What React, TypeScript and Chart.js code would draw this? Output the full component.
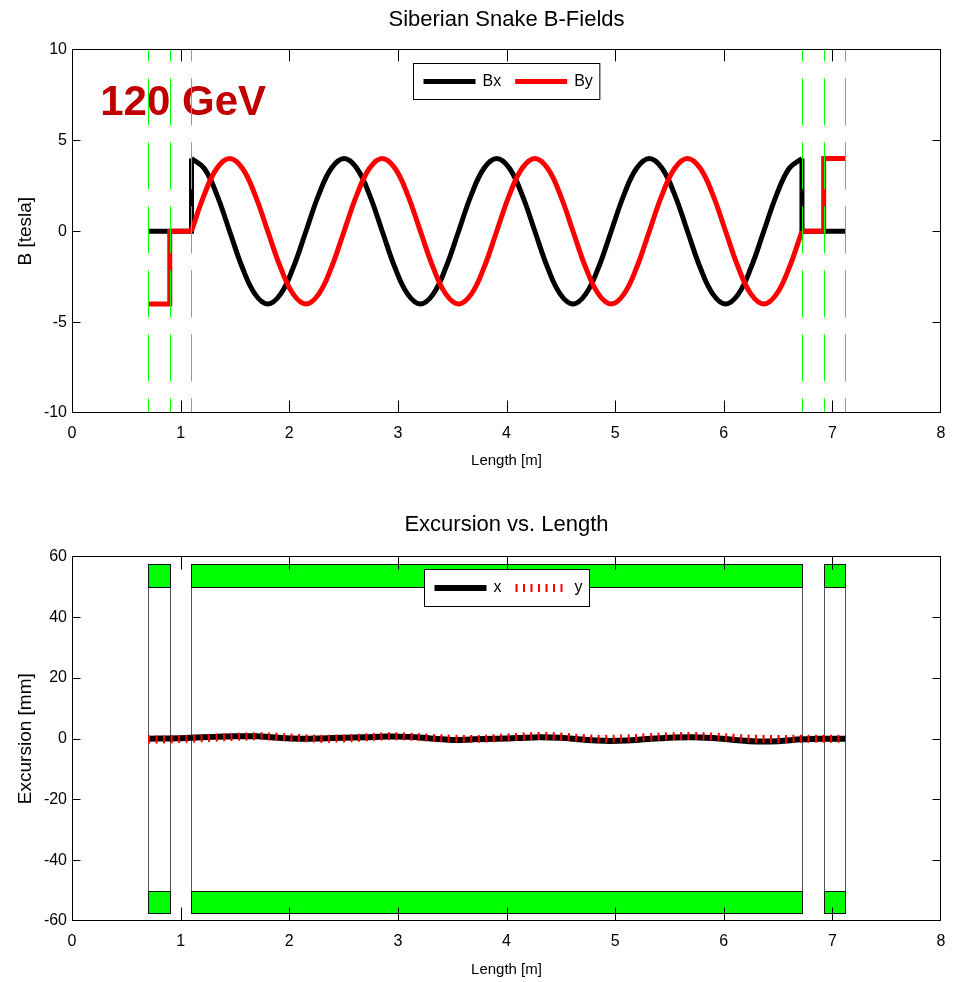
import React, { useEffect, useRef } from 'react';
import { Chart, registerables } from 'chart.js';

Chart.register(...registerables);

const FONT = '"Liberation Sans Narrow", "Liberation Sans", Arial, sans-serif';

// ---------- Siberian snake geometry [m] ----------
const magnetStarts = [0.7, 1.1, 6.92];
const magnetEnds = [0.9, 6.72, 7.12];
const boundaryLines = [0.7, 0.9, 1.1, 6.72, 6.92, 7.12];
const apertureInner = 50;
const apertureOuter = 57.5;

// ---------- Top chart: B-fields ----------
const helixX = [
  1.1, 1.217, 1.334, 1.451, 1.568, 1.685, 1.802, 1.92, 2.037, 2.154, 2.271, 2.388,
  2.505, 2.622, 2.739, 2.856, 2.973, 3.09, 3.207, 3.325, 3.442, 3.559, 3.676, 3.793,
  3.91, 4.027, 4.144, 4.261, 4.378, 4.495, 4.612, 4.729, 4.847, 4.964, 5.081, 5.198,
  5.315, 5.432, 5.549, 5.666, 5.783, 5.9, 6.017, 6.134, 6.251, 6.369, 6.486, 6.603, 6.72,
];
const bxHelix = [
  4, 3.46, 2, 0, -2, -3.46, -4, -3.46, -2, 0, 2, 3.46,
  4, 3.46, 2, 0, -2, -3.46, -4, -3.46, -2, 0, 2, 3.46,
  4, 3.46, 2, 0, -2, -3.46, -4, -3.46, -2, 0, 2, 3.46,
  4, 3.46, 2, 0, -2, -3.46, -4, -3.46, -2, 0, 2, 3.46, 4,
];
const byHelix = [
  0, 2, 3.46, 4, 3.46, 2, 0, -2, -3.46, -4, -3.46, -2,
  0, 2, 3.46, 4, 3.46, 2, 0, -2, -3.46, -4, -3.46, -2,
  0, 2, 3.46, 4, 3.46, 2, 0, -2, -3.46, -4, -3.46, -2,
  0, 2, 3.46, 4, 3.46, 2, 0, -2, -3.46, -4, -3.46, -2, 0,
];
const bxEntryX = [0.7, 1.1, 1.1];
const bxEntryY = [0, 0, 4];
const bxExitX = [6.72, 6.72, 7.12];
const bxExitY = [4, 0, 0];
const byEntryX = [0.7, 0.9, 0.9, 1.1];
const byEntryY = [-4, -4, 0, 0];
const byExitX = [6.72, 6.92, 6.92, 7.12];
const byExitY = [0, 0, 4, 4];

// ---------- Bottom chart: excursion ----------
const excursionL = [
  0.7, 0.9, 1.1, 1.3, 1.5, 1.7, 1.9, 2.1, 2.3, 2.5, 2.7, 2.9, 3.1, 3.3, 3.5, 3.7, 3.9,
  4.1, 4.3, 4.5, 4.7, 4.9, 5.1, 5.3, 5.5, 5.7, 5.9, 6.1, 6.3, 6.5, 6.72, 6.92, 7.12,
];
const excursionXmm = [
  0, 0.1, 0.3, 0.6, 0.8, 0.8, 0.3, 0, 0.1, 0.3, 0.5, 0.7, 0.6, 0.1, -0.4, -0.2, 0,
  0.2, 0.5, 0.3, -0.3, -0.7, -0.6, -0.1, 0.3, 0.5, 0.2, -0.4, -0.9, -0.8, -0.2, 0, 0,
];
const excursionYmm = [
  -0.3, -0.2, 0, 0.3, 0.6, 0.8, 0.6, 0.2, 0, 0.1, 0.4, 0.8, 0.7, 0.3, 0, -0.1, 0.2,
  0.6, 0.9, 0.7, 0.2, 0, 0.1, 0.5, 0.8, 0.9, 0.7, 0.3, 0, -0.1, 0, 0, 0,
];

const toXY = (xs: number[], ys: number[]) => xs.map((x, i) => ({ x, y: ys[i] }));

const RED = '#ff0000';
const BLACK = '#000000';

function drawBoxAndTicks(chart: any, xTickLen: number, yTickLen: number) {
  const { ctx, chartArea: a, scales } = chart;
  ctx.save();
  ctx.strokeStyle = '#000';
  ctx.lineWidth = 1;
  const L = Math.round(a.left) + 0.5;
  const R = Math.round(a.right) - 0.5;
  const T = Math.round(a.top) + 0.5;
  const B = Math.round(a.bottom) - 0.5;
  ctx.strokeRect(L, T, R - L, B - T);
  ctx.beginPath();
  const xs = scales.x;
  xs.ticks.forEach((t: any) => {
    if (t.value <= xs.min || t.value >= xs.max) return;
    const px = Math.round(xs.getPixelForValue(t.value)) + 0.5;
    ctx.moveTo(px, B);
    ctx.lineTo(px, B - xTickLen);
    ctx.moveTo(px, T);
    ctx.lineTo(px, T + xTickLen);
  });
  const ys = scales.y;
  ys.ticks.forEach((t: any) => {
    if (t.value <= ys.min || t.value >= ys.max) return;
    const py = Math.round(ys.getPixelForValue(t.value)) + 0.5;
    ctx.moveTo(L, py);
    ctx.lineTo(L + yTickLen, py);
    ctx.moveTo(R, py);
    ctx.lineTo(R - yTickLen, py);
  });
  ctx.stroke();
  ctx.restore();
}

function drawLegend(chart: any, topOffset: number, height: number) {
  const { ctx, chartArea: a } = chart;
  const items = chart.data.datasets
    .filter((d: any) => d.inLegend)
    .slice()
    .sort((p: any, q: any) => q.order - p.order);
  ctx.save();
  ctx.font = `16px ${FONT}`;
  const padL = 10, lineLen = 52, gapText = 7, gapItem = 14, padR = 7;
  let w = padL + padR;
  items.forEach((it: any, i: number) => {
    w += lineLen + gapText + ctx.measureText(it.label).width + (i < items.length - 1 ? gapItem : 0);
  });
  const cx = (a.left + a.right) / 2;
  const x0 = Math.round(cx - w / 2) + 0.5;
  const y0 = Math.round(a.top + topOffset) + 0.5;
  ctx.fillStyle = '#fff';
  ctx.fillRect(x0, y0, w, height);
  ctx.strokeStyle = '#000';
  ctx.lineWidth = 1;
  ctx.strokeRect(x0, y0, w, height);
  let x = x0 + padL;
  const cy = y0 + height / 2;
  items.forEach((it: any) => {
    ctx.save();
    ctx.strokeStyle = it.borderColor;
    ctx.lineWidth = it.borderWidth;
    if (it.borderDash) ctx.setLineDash(it.borderDash);
    ctx.beginPath();
    ctx.moveTo(x, cy);
    ctx.lineTo(x + lineLen, cy);
    ctx.stroke();
    ctx.restore();
    x += lineLen + gapText;
    ctx.fillStyle = '#000';
    ctx.textBaseline = 'middle';
    ctx.textAlign = 'left';
    ctx.fillText(it.label, x, cy);
    x += ctx.measureText(it.label).width + gapItem;
  });
  ctx.restore();
}

// annotation label position in data units
const energyLabel = '120 GeV';
const energyLabelAt = { x: 0.26, y: 6.4 };

const topPlugin = {
  id: 'topDecor',
  beforeDatasetsDraw(chart: any) {
    const { ctx, scales } = chart;
    ctx.save();
    ctx.font = `bold 42px "Liberation Sans", Arial, sans-serif`;
    ctx.fillStyle = '#c00000';
    ctx.textBaseline = 'alphabetic';
    ctx.textAlign = 'left';
    ctx.fillText(energyLabel, scales.x.getPixelForValue(energyLabelAt.x), scales.y.getPixelForValue(energyLabelAt.y));
    ctx.restore();
  },
  afterDatasetsDraw(chart: any) {
    const { ctx, scales } = chart;
    ctx.save();
    ctx.strokeStyle = '#00ff00';
    ctx.lineWidth = 1;
    ctx.setLineDash([47, 17]);
    ctx.lineDashOffset = 35;
    boundaryLines.forEach((v) => {
      const px = Math.round(scales.x.getPixelForValue(v)) + 0.5;
      ctx.beginPath();
      ctx.moveTo(px, scales.y.getPixelForValue(10));
      ctx.lineTo(px, scales.y.getPixelForValue(-10));
      ctx.stroke();
    });
    ctx.restore();
    drawBoxAndTicks(chart, 12, 8);
  },
  afterDraw(chart: any) {
    drawLegend(chart, 14, 36);
  },
};

const bottomPlugin = {
  id: 'bottomDecor',
  beforeDatasetsDraw(chart: any) {
    const { ctx, scales } = chart;
    const xs = scales.x, ys = scales.y;
    ctx.save();
    ctx.lineWidth = 1;
    magnetStarts.forEach((s, i) => {
      const x0 = Math.round(xs.getPixelForValue(s)) + 0.5;
      const x1 = Math.round(xs.getPixelForValue(magnetEnds[i])) + 0.5;
      // outline of the magnet bore
      ctx.strokeStyle = '#555';
      const yTop = Math.round(ys.getPixelForValue(apertureOuter)) + 0.5;
      const yBot = Math.round(ys.getPixelForValue(-apertureOuter)) + 0.5;
      ctx.strokeRect(x0, yTop, x1 - x0, yBot - yTop);
      // pole pieces
      [[apertureInner, apertureOuter], [-apertureOuter, -apertureInner]].forEach(([lo, hi]) => {
        const ya = Math.round(ys.getPixelForValue(hi)) + 0.5;
        const yb = Math.round(ys.getPixelForValue(lo)) + 0.5;
        ctx.fillStyle = '#00ff00';
        ctx.fillRect(x0, ya, x1 - x0, yb - ya);
        ctx.strokeStyle = '#111';
        ctx.strokeRect(x0, ya, x1 - x0, yb - ya);
      });
    });
    ctx.restore();
  },
  afterDatasetsDraw(chart: any) {
    drawBoxAndTicks(chart, 13, 8);
  },
  afterDraw(chart: any) {
    drawLegend(chart, 13, 37);
  },
};

const tickFont = { family: FONT, size: 16 };
const axisTitleFont = { family: FONT, size: 15 };
const yTitleFont = { family: FONT, size: 19 };

function baseScales(yMin: number, yMax: number, yStep: number, yTitle: string, xHeight: number, xTitlePadBottom: number) {
  return {
    x: {
      type: 'linear' as const,
      min: 0,
      max: 8,
      ticks: { stepSize: 1, font: tickFont, color: '#000', padding: 11, maxRotation: 0 },
      grid: { display: false, drawTicks: false },
      border: { display: false },
      title: { display: true, text: 'Length [m]', font: axisTitleFont, color: '#000', padding: { top: 0, bottom: xTitlePadBottom } },
      afterFit: (s: any) => { s.height = xHeight; },
    },
    y: {
      type: 'linear' as const,
      min: yMin,
      max: yMax,
      ticks: { stepSize: yStep, font: tickFont, color: '#000', padding: 5 },
      grid: { display: false, drawTicks: false },
      border: { display: false },
      title: { display: true, text: yTitle, font: yTitleFont, color: '#000', padding: { top: 14, bottom: 0 } },
      afterFit: (s: any) => { s.width = 72; },
    },
  };
}

export default function App() {
  const topRef = useRef<HTMLCanvasElement>(null);
  const botRef = useRef<HTMLCanvasElement>(null);

  useEffect(() => {
    const lineBase = { pointRadius: 0, fill: false, borderJoinStyle: 'miter' as const };
    const top = new Chart(topRef.current as HTMLCanvasElement, {
      type: 'line',
      data: {
        datasets: [
          { ...lineBase, label: 'By', inLegend: true, data: toXY(helixX, byHelix), borderColor: RED, borderWidth: 5, tension: 0.4, order: 0 } as any,
          { ...lineBase, label: 'By entry', data: toXY(byEntryX, byEntryY), borderColor: RED, borderWidth: 5, tension: 0, order: 0 },
          { ...lineBase, label: 'By exit', data: toXY(byExitX, byExitY), borderColor: RED, borderWidth: 5, tension: 0, order: 0 },
          { ...lineBase, label: 'Bx', inLegend: true, data: toXY(helixX, bxHelix), borderColor: BLACK, borderWidth: 5, tension: 0.4, order: 1 } as any,
          { ...lineBase, label: 'Bx entry', data: toXY(bxEntryX, bxEntryY), borderColor: BLACK, borderWidth: 5, tension: 0, order: 1 },
          { ...lineBase, label: 'Bx exit', data: toXY(bxExitX, bxExitY), borderColor: BLACK, borderWidth: 5, tension: 0, order: 1 },
        ],
      },
      options: {
        animation: false,
        responsive: false,
        maintainAspectRatio: false,
        layout: { padding: { left: 0, right: 20, top: 0, bottom: 0 } },
        plugins: {
          legend: { display: false },
          tooltip: { enabled: false },
          title: {
            display: true,
            fullSize: false,
            text: 'Siberian Snake B-Fields',
            color: '#000',
            font: { family: FONT, size: 22, weight: 'normal' },
            padding: { top: 7, bottom: 16 },
          },
        },
        scales: baseScales(-10, 10, 5, 'B [tesla]', 77, 20) as any,
      },
      plugins: [topPlugin],
    });

    const bottom = new Chart(botRef.current as HTMLCanvasElement, {
      type: 'line',
      data: {
        datasets: [
          { ...lineBase, label: 'x', inLegend: true, data: toXY(excursionL, excursionXmm), borderColor: BLACK, borderWidth: 6, tension: 0.4, order: 1 } as any,
          { ...lineBase, label: 'y', inLegend: true, data: toXY(excursionL, excursionYmm), borderColor: RED, borderWidth: 8, borderDash: [2, 5.5], tension: 0.4, order: 0 } as any,
        ],
      },
      options: {
        animation: false,
        responsive: false,
        maintainAspectRatio: false,
        layout: { padding: { left: 0, right: 20, top: 0, bottom: 0 } },
        plugins: {
          legend: { display: false },
          tooltip: { enabled: false },
          title: {
            display: true,
            fullSize: false,
            text: 'Excursion vs. Length',
            color: '#000',
            font: { family: FONT, size: 22, weight: 'normal' },
            padding: { top: 22, bottom: 18 },
          },
        },
        scales: baseScales(-60, 60, 20, 'Excursion [mm]', 61, 3) as any,
      },
      plugins: [bottomPlugin],
    });

    return () => {
      top.destroy();
      bottom.destroy();
    };
  }, []);

  return (
    <div style={{ position: 'absolute', left: 0, top: 0, width: 961, height: 982, background: '#fff' }}>
      <canvas ref={topRef} width={961} height={490} style={{ position: 'absolute', left: 0, top: 0, width: 961, height: 490 }} />
      <canvas ref={botRef} width={961} height={492} style={{ position: 'absolute', left: 0, top: 490, width: 961, height: 492 }} />
    </div>
  );
}
